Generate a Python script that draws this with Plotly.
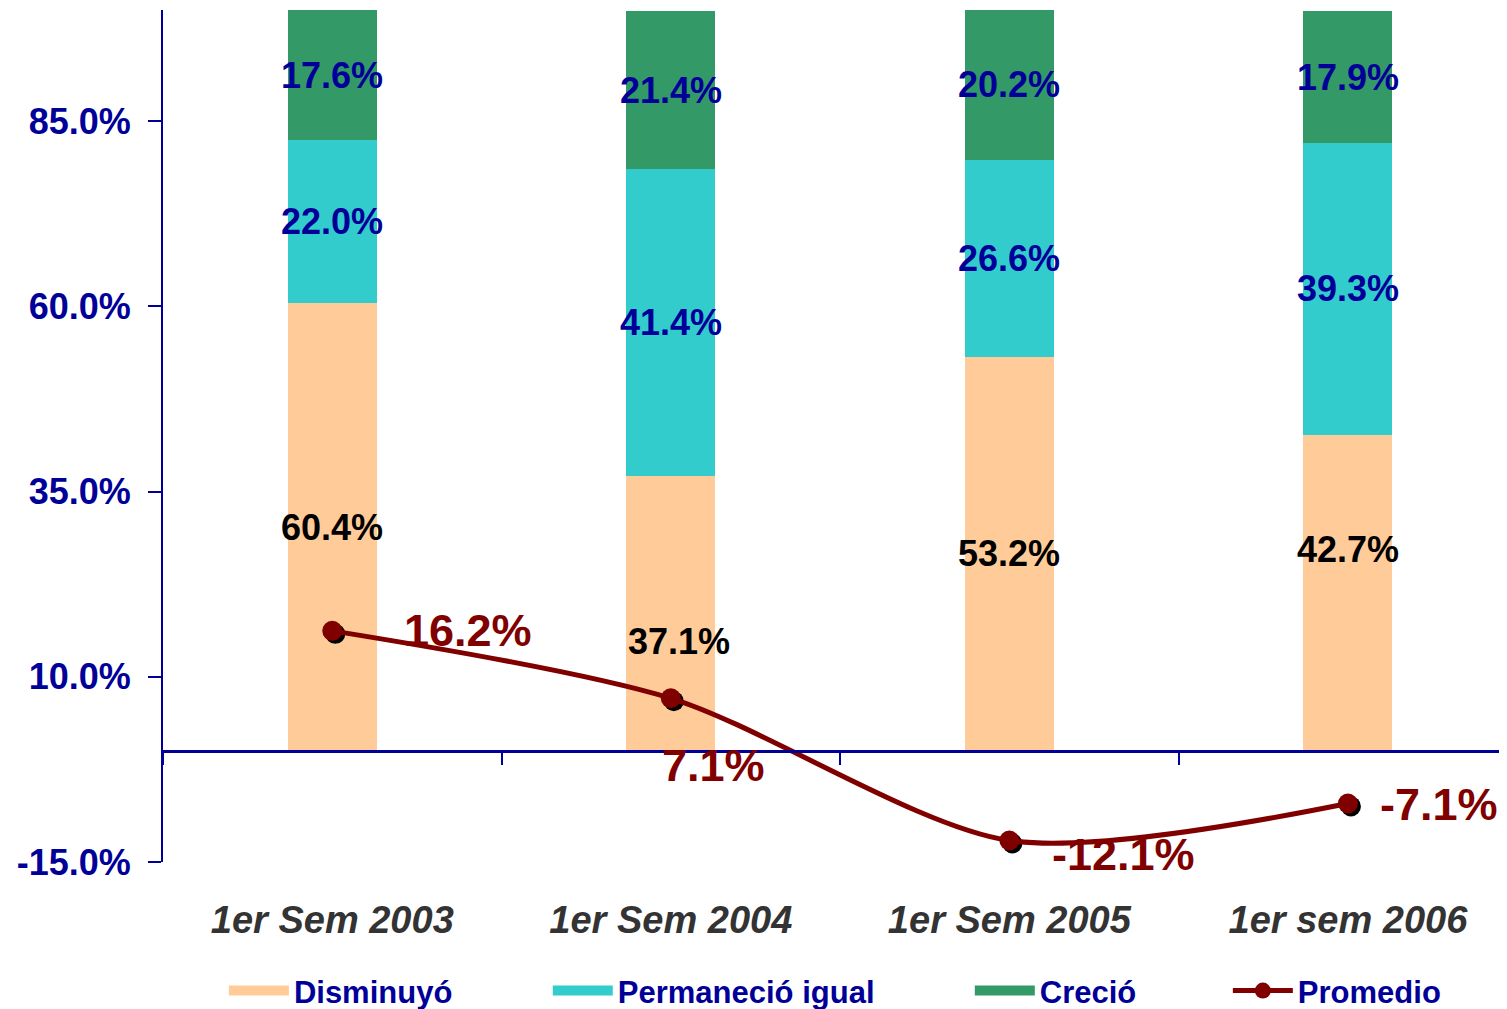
"""Stacked bar chart with average line by semester."""

import plotly.graph_objects as go

categories = ["1er Sem 2003", "1er Sem 2004", "1er Sem 2005", "1er sem 2006"]
disminuyo = [60.4, 37.1, 53.2, 42.7]
permanecio = [22.0, 41.4, 26.6, 39.3]
crecio = [17.6, 21.4, 20.2, 17.9]
promedio = [16.2, 7.1, -12.1, -7.1]

y_ticks = [-15, 10, 35, 60, 85]
y_ticktext = [f"{v:.1f}%" for v in y_ticks]

BLUE = "#000099"
DARK_RED = "#800000"
FONT = "Arial, Liberation Sans, sans-serif"

fig = go.Figure()

bar_series = [
    ("Disminuyó", disminuyo, "#FFCC99", "legend"),
    ("Permaneció igual", permanecio, "#33CCCC", "legend2"),
    ("Creció", crecio, "#339966", "legend3"),
]
for name, vals, color, _ in bar_series:
    fig.add_trace(
        go.Bar(
            x=categories,
            y=vals,
            name=name,
            marker=dict(color=color, line=dict(width=0)),
            width=0.263,
            showlegend=False,
            xaxis="x",
            yaxis="y",
        )
    )
# wide legend swatches for the bar series
for name, _, color, leg in bar_series:
    fig.add_trace(
        go.Scatter(
            x=[None],
            y=[None],
            name=name,
            mode="lines",
            line=dict(color=color, width=19),
            legend=leg,
            hoverinfo="skip",
        )
    )

# marker shadow, drawn on axes nudged a few pixels right/down
fig.add_trace(
    go.Scatter(
        x=categories,
        y=promedio,
        mode="markers",
        marker=dict(color="black", size=20),
        showlegend=False,
        hoverinfo="skip",
        xaxis="x2",
        yaxis="y2",
    )
)
fig.add_trace(
    go.Scatter(
        x=categories,
        y=promedio,
        name="Promedio",
        mode="lines+markers",
        line=dict(color=DARK_RED, width=5, shape="spline", smoothing=0.8),
        marker=dict(color=DARK_RED, size=20),
        legend="legend4",
        xaxis="x3",
        yaxis="y3",
    )
)

annotations = []
# bar segment labels, centred in each segment
label_shift = {("Disminuyó", 1): (8, -28), ("Disminuyó", 3): (0, 43)}
base = [0.0] * len(categories)
for name, vals, _, _ in bar_series:
    for i, (cat, v) in enumerate(zip(categories, vals)):
        dx, dy = label_shift.get((name, i), (0, 0))
        annotations.append(
            dict(
                x=cat,
                y=base[i] + v / 2,
                xref="x",
                yref="y",
                text=f"{v:.1f}%",
                showarrow=False,
                xshift=dx,
                yshift=dy,
                font=dict(family=FONT, size=36, weight="bold",
                          color="black" if name == "Disminuyó" else BLUE),
            )
        )
        base[i] += v

# average labels
line_shift = [(136, 0), (43, -67), (114, -14), (91, -1)]
for cat, v, (dx, dy) in zip(categories, promedio, line_shift):
    annotations.append(
        dict(
            x=cat,
            y=v,
            xref="x",
            yref="y",
            text=f"{v:.1f}%",
            showarrow=False,
            xshift=dx,
            yshift=dy,
            font=dict(family=FONT, size=45, weight="bold", color=DARK_RED),
        )
    )

x_range = [-0.5, 3.47]
y_range = [-15, 100]
nudge_x = 0.009
nudge_y = 0.4

hidden_axis = dict(visible=False, showgrid=False, zeroline=False)

legend_font = dict(family=FONT, size=31, color=BLUE, weight="bold")


def legend_box(x):
    return dict(
        orientation="h",
        x=x,
        xanchor="left",
        yref="container",
        y=0.0258,
        yanchor="middle",
        itemwidth=60,
        font=legend_font,
        bgcolor="rgba(0,0,0,0)",
    )


fig.update_layout(
    width=1507,
    height=1009,
    margin=dict(l=155, r=8, t=2, b=155),
    paper_bgcolor="white",
    plot_bgcolor="white",
    barmode="stack",
    font=dict(family=FONT),
    xaxis=dict(
        type="category",
        range=x_range,
        anchor="free",
        position=(0 - y_range[0]) / (y_range[1] - y_range[0]),
        showline=True,
        linecolor=BLUE,
        linewidth=3,
        ticks="outside",
        tickson="boundaries",
        ticklen=12,
        tickwidth=2,
        tickcolor=BLUE,
        ticklabelstandoff=135,
        tickfont=dict(family=FONT, size=38, color="#333333", weight="bold", style="italic"),
        showgrid=False,
        zeroline=False,
        automargin=False,
    ),
    yaxis=dict(
        range=y_range,
        tickvals=y_ticks,
        ticktext=y_ticktext,
        showline=True,
        linecolor=BLUE,
        linewidth=2,
        ticks="outside",
        ticklen=13,
        tickwidth=2,
        tickcolor=BLUE,
        ticklabelstandoff=10,
        tickfont=dict(family=FONT, size=36, color=BLUE, weight="bold"),
        showgrid=False,
        zeroline=False,
        automargin=False,
    ),
    xaxis2=dict(type="category", overlaying="x", anchor="y2",
                range=[x_range[0] - nudge_x, x_range[1] - nudge_x], **hidden_axis),
    yaxis2=dict(overlaying="y", anchor="x2",
                range=[y_range[0] + nudge_y, y_range[1] + nudge_y], **hidden_axis),
    xaxis3=dict(type="category", overlaying="x", anchor="y3", range=x_range, **hidden_axis),
    yaxis3=dict(overlaying="y", anchor="x3", range=y_range, **hidden_axis),
    legend=legend_box(0.0453),
    legend2=legend_box(0.2863),
    legend3=legend_box(0.6003),
    legend4=legend_box(0.7923),
    annotations=annotations,
    showlegend=True,
)

fig.write_html("out.html")
